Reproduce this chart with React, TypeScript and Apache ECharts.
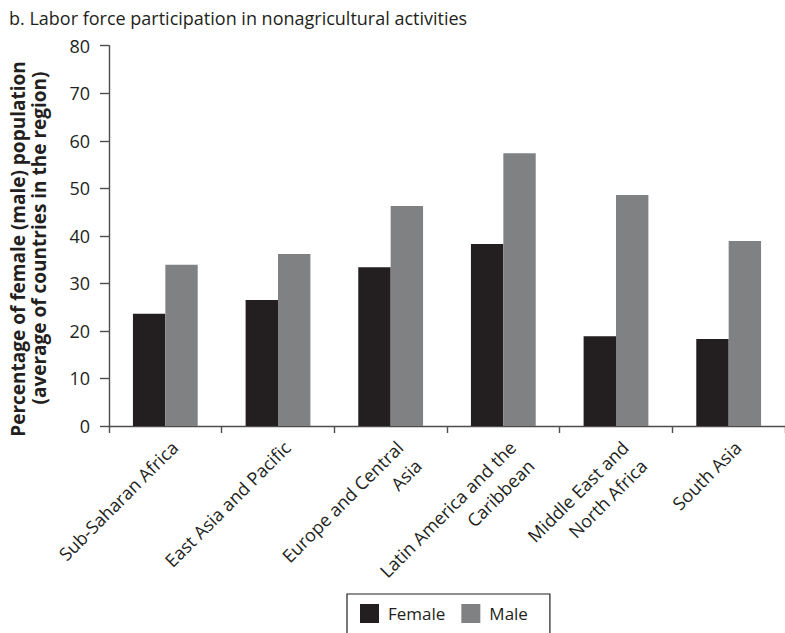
import React, { useEffect, useRef } from "react";
import * as echarts from "echarts";

const categories = [
  "Sub-Saharan Africa",
  "East Asia and Pacific",
  "Europe and Central\nAsia",
  "Latin America and the\nCaribbean",
  "Middle East and\nNorth Africa",
  "South Asia",
];
const femaleValues = [23.6, 26.5, 33.4, 38.3, 18.9, 18.3];
const maleValues = [33.9, 36.2, 46.3, 57.4, 48.6, 38.9];
const seriesNames = ["Female", "Male"];
const titleText = "b. Labor force participation in nonagricultural activities";
const yTitleLines = [
  "Percentage of female (male) population",
  "(average of countries in the region)",
];

const FONT = '"Open Sans", sans-serif';
const TEXT = "#231f20";
const AXIS = "#4d4d4f";

export default function App() {
  const ref = useRef<HTMLDivElement>(null);
  useEffect(() => {
    if (!ref.current) return;
    const chart = echarts.init(ref.current, null, { renderer: "svg" });
    chart.setOption({
      animation: false,
      backgroundColor: "#ffffff",
      textStyle: { fontFamily: FONT, color: TEXT },
      graphic: [
        {
          type: "text",
          left: 9,
          top: 9,
          style: { text: titleText, font: `18px ${FONT}`, fill: TEXT },
        },
        {
          type: "text",
          x: 18,
          y: 249,
          rotation: Math.PI / 2,
          style: {
            text: yTitleLines[0],
            font: `bold 19px ${FONT}`,
            fill: TEXT,
            align: "center",
            verticalAlign: "middle",
          },
        },
        {
          type: "text",
          x: 39,
          y: 238,
          rotation: Math.PI / 2,
          style: {
            text: yTitleLines[1],
            font: `bold 19px ${FONT}`,
            fill: TEXT,
            align: "center",
            verticalAlign: "middle",
          },
        },
      ],
      legend: {
        data: seriesNames,
        left: 347,
        top: 594,
        orient: "horizontal",
        icon: "rect",
        itemWidth: 19,
        itemHeight: 19,
        itemGap: 16,
        padding: [10, 22, 30, 13],
        borderColor: "#231f20",
        borderWidth: 1.2,
        textStyle: { fontFamily: FONT, fontSize: 17, color: TEXT, padding: [0, 0, 0, 4] },
      },
      grid: { left: 109, top: 45.7, bottom: 207, width: 679 },
      xAxis: {
        type: "category",
        data: categories,
        axisLine: { lineStyle: { color: AXIS, width: 1.4 } },
        axisTick: { show: true, length: 7, lineStyle: { color: AXIS, width: 1.4 } },
        axisLabel: {
          rotate: 45,
          interval: 0,
          margin: 9,
          fontFamily: FONT,
          fontSize: 18,
          color: TEXT,
          lineHeight: 26,
          align: "right",
          verticalAlign: "top",
        },
      },
      yAxis: {
        type: "value",
        min: 0,
        max: 80,
        interval: 10,
        splitLine: { show: false },
        axisLine: { show: true, lineStyle: { color: AXIS, width: 1.4 } },
        axisTick: { show: true, length: 9, lineStyle: { color: AXIS, width: 1.4 } },
        axisLabel: { margin: 19, fontFamily: FONT, fontSize: 18, color: TEXT },
      },
      series: [
        {
          name: seriesNames[0],
          type: "bar",
          data: femaleValues,
          barGap: "0%",
          barCategoryGap: "42.5%",
          itemStyle: { color: "#231f20" },
        },
        {
          name: seriesNames[1],
          type: "bar",
          data: maleValues,
          barGap: "0%",
          barCategoryGap: "42.5%",
          itemStyle: { color: "#808183" },
        },
      ],
    });
    return () => chart.dispose();
  }, []);
  return <div ref={ref} style={{ width: 785, height: 633, position: "absolute", left: 0, top: 0 }} />;
}
